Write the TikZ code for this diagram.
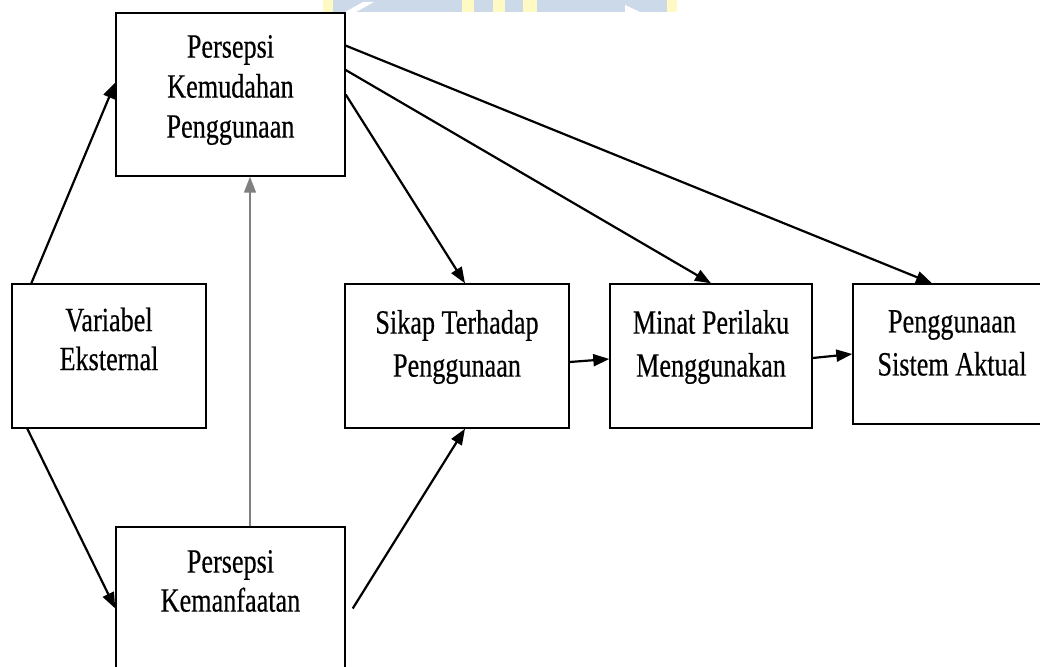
\documentclass[tikz,border=0pt]{standalone}
\usepackage{fontspec}
\setmainfont{Liberation Serif}[FakeStretch=0.77, FakeBold=0.4]
\usetikzlibrary{arrows.meta}
\definecolor{wmblue}{RGB}{204,217,233}
\definecolor{wmyellow}{RGB}{255,250,196}
\definecolor{linkgray}{RGB}{128,128,128}

\begin{document}
\begin{tikzpicture}[x=1pt, y=-1pt, line width=2.2pt, >={Triangle[length=16pt,width=12pt]}]
                \tikzstyle{every node}=[font=\fontsize{34}{40}\selectfont]
                \tikzstyle{box}=[draw, line width=1.4pt, inner sep=0pt]
                \tikzstyle{lbl}=[align=center, inner sep=0pt]
                \useasboundingbox (0,0) rectangle (1040,666);
                \clip (0,0) rectangle (1040,666);
                \fill[white] (0,0) rectangle (1040,666);
                % watermark strip at the top
                \fill[wmblue] (323,0) rectangle (677,12);
                \foreach \xa/\xb in {323/333, 462/474, 493/505, 523/537, 667/677}
                  \fill[wmyellow] (\xa,0) rectangle (\xb,12);
                \fill[white] (345,12) -- (356,12) -- (374,2) -- (363,2) -- cycle;
                \fill[white] (625,5) -- (640,12) -- (625,12) -- cycle;

                \node[box, minimum width=229pt, minimum height=163pt] (pkp) at (230.5, 94.5) {};
                \node[lbl] (pkptxt) at (230.5, 90) {Persepsi\\Kemudahan\\Penggunaan};
                \node[box, minimum width=194pt, minimum height=144pt] (ve) at (109, 356) {};
                \node[lbl, font=\fontsize{34}{39}\selectfont] (vetxt) at (109, 339) {Variabel\\Eksternal};
                \node[box, minimum width=229pt, minimum height=163pt] (pk) at (230.5, 608.5) {};
                \node[lbl, font=\fontsize{34}{39}\selectfont] (pktxt) at (230.5, 581) {Persepsi\\Kemanfaatan};
                \node[box, minimum width=224pt, minimum height=144pt] (sikap) at (457, 356) {};
                \node[lbl, font=\fontsize{34}{43}\selectfont] (sikaptxt) at (457, 347) {Sikap Terhadap\\Penggunaan};
                \node[box, minimum width=202pt, minimum height=144pt] (minat) at (711, 356) {};
                \node[lbl, font=\fontsize{34}{43}\selectfont] (minattxt) at (711, 347) {Minat Perilaku\\Menggunakan};
                \node[box, minimum width=198pt, minimum height=140pt] (psa) at (952, 354) {};
                \node[lbl, font=\fontsize{34}{43}\selectfont] (psatxt) at (952, 343) {Penggunaan\\Sistem Aktual};

            \draw[->] ([xshift=20pt]ve.north west) -- (pkp.174);
            \draw[->] ([xshift=16pt]ve.south west) -- (pk.west);
            \draw[->, linkgray, line width=1.5pt] ([xshift=19.5pt]pk.north) -- ([xshift=19.5pt]pkp.south);
            \draw[->] ([xshift=7pt]pk.east) -- ([xshift=8pt]sikap.south);
            \draw[->] (pkp.east) -- ([xshift=8pt]sikap.north);
            \draw[->] (pkp.12.5) -- (minat.north);
            \draw[->] (pkp.23.4) -- ([xshift=-20pt]psa.north);
            \draw[->] ([yshift=-6pt]sikap.east) -- ([yshift=-3pt]minat.west);
            \draw[->] ([yshift=-2pt]minat.east) -- (psa.west);
          \end{tikzpicture}
\end{document}
